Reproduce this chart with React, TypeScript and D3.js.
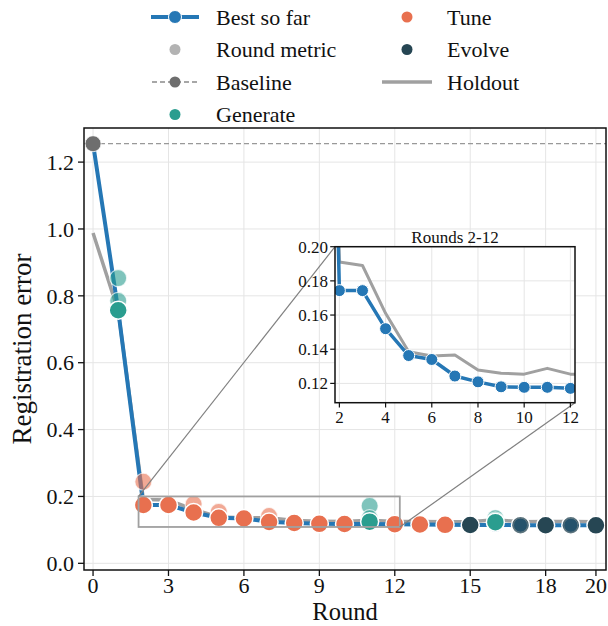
import * as d3 from 'd3';
import React from 'react';

// rounds and per-round values
const rounds = [0, 1, 2, 3, 4, 5, 6, 7, 8, 9, 10, 11, 12, 13, 14, 15, 16, 17, 18, 19, 20];
const stages = ['Baseline', 'Generate', 'Tune', 'Tune', 'Tune', 'Tune', 'Tune', 'Tune', 'Tune', 'Tune', 'Tune',
    'Generate', 'Tune', 'Tune', 'Tune', 'Evolve', 'Generate', 'Evolve', 'Evolve', 'Evolve', 'Evolve'];
const roundMetric = [1.255, 0.757, 0.1745, 0.1745, 0.152, 0.136, 0.134, 0.1235, 0.1205, 0.118, 0.1175,
    0.1245, 0.117, 0.116, 0.115, 0.1145, 0.123, 0.1142, 0.1138, 0.1138, 0.1135];
const bestSoFar = [1.255, 0.757, 0.1743, 0.1743, 0.152, 0.1363, 0.134, 0.1243, 0.1209, 0.118, 0.1177,
    0.1177, 0.1171, 0.116, 0.115, 0.1145, 0.1145, 0.1142, 0.1138, 0.1138, 0.1135];
const holdout = [0.988, 0.755, 0.191, 0.189, 0.161, 0.1385, 0.136, 0.1366, 0.1278, 0.126, 0.1254,
    0.1288, 0.1254, 0.125, 0.124, 0.124, 0.13, 0.124, 0.125, 0.125, 0.124];
const dimmedRounds = [17, 19];
// other candidates evaluated within a round
const candRounds = [1, 1, 2, 4, 5, 7, 11, 11, 16, 16];
const candValues = [0.853, 0.785, 0.244, 0.1775, 0.154, 0.1415, 0.172, 0.135, 0.135, 0.128];
const baseline = 1.255;

const xTicks = [0, 3, 6, 9, 12, 15, 18, 20];
const yTicks = [0.0, 0.2, 0.4, 0.6, 0.8, 1.0, 1.2];
const insetXTicks = [2, 4, 6, 8, 10, 12];
const insetYTicks = [0.12, 0.14, 0.16, 0.18, 0.20];
const insetRange = [1.81, 12.2];
const insetDomain = [0.1087, 0.2];

const colors = {
    best: '#2577b5',
    Baseline: '#6e6e6e',
    Generate: '#2a9d8f',
    Tune: '#e8704f',
    Evolve: '#264653',
    metric: '#b3b3b3',
    holdout: '#a0a0a0',
};

const font = '"Liberation Serif", "Times New Roman", serif';

function App() {
    const x = d3.scaleLinear().domain([-0.36, 20.4]).range([84, 606]);
    const y = d3.scaleLinear().domain([-0.02, 1.302]).range([570, 128]);
    const ix = d3.scaleLinear().domain(insetRange).range([335, 575]);
    const iy = d3.scaleLinear().domain(insetDomain).range([402.7, 246.7]);

    const line = d3.line<number>().x((d, i) => x(rounds[i])).y(d => y(d));
    const iline = d3.line<number>().x((d, i) => ix(rounds[i])).y(d => iy(d));

    const [x0, x1] = x.range();
    const [y0, y1] = y.range();

    const rx0 = x(insetRange[0]), rx1 = x(insetRange[1]);
    const ry0 = y(insetDomain[1]), ry1 = y(insetDomain[0]);

    const legendCol1 = [
        { label: 'Best so far', kind: 'best' },
        { label: 'Round metric', kind: 'metric' },
        { label: 'Baseline', kind: 'baseline' },
        { label: 'Generate', kind: 'Generate' },
    ];
    const legendCol2 = [
        { label: 'Tune', kind: 'Tune' },
        { label: 'Evolve', kind: 'Evolve' },
        { label: 'Holdout', kind: 'holdout' },
    ];

    const handle = (kind: string, cx: number, cy: number) => {
        if (kind === 'best') return (
            <g>
                <line x1={cx - 24} x2={cx + 24} y1={cy} y2={cy} stroke={colors.best} strokeWidth={4} />
                <circle cx={cx} cy={cy} r={6.5} fill={colors.best} stroke="#fff" strokeWidth={1} />
            </g>
        );
        if (kind === 'baseline') return (
            <g>
                <line x1={cx - 23} x2={cx + 23} y1={cy} y2={cy} stroke="#8a8a8a" strokeWidth={1.3} strokeDasharray="5,3" />
                <circle cx={cx} cy={cy} r={5.5} fill={colors.Baseline} />
            </g>
        );
        if (kind === 'holdout') return (
            <line x1={cx - 25} x2={cx + 25} y1={cy} y2={cy} stroke={colors.holdout} strokeWidth={3.5} />
        );
        const c = kind === 'metric' ? colors.metric : (colors as any)[kind];
        return <circle cx={cx} cy={cy} r={5.5} fill={c} />;
    };

    return (
        <svg width={608} height={626} style={{ position: 'absolute', left: 0, top: 0, fontFamily: font }}>
            <defs>
                <clipPath id="main-clip"><rect x={x0} y={y1} width={x1 - x0} height={y0 - y1} /></clipPath>
                <clipPath id="inset-clip"><rect x={335} y={246.7} width={240} height={156} /></clipPath>
            </defs>
            <rect width={608} height={626} fill="#fff" />

            {/* legend */}
            <g fontSize={22} fill="#111">
                {legendCol1.map((d, i) => (
                    <g key={d.label}>
                        {handle(d.kind, 175, 17 + i * 32.5)}
                        <text x={216} y={17 + i * 32.5} dy="0.35em">{d.label}</text>
                    </g>
                ))}
                {legendCol2.map((d, i) => (
                    <g key={d.label}>
                        {handle(d.kind, 407, 17 + i * 32.5)}
                        <text x={447} y={17 + i * 32.5} dy="0.35em">{d.label}</text>
                    </g>
                ))}
            </g>

            {/* grid */}
            <g stroke="#e5e5e5" strokeWidth={1}>
                {xTicks.map(t => <line key={'gx' + t} x1={x(t)} x2={x(t)} y1={y1} y2={y0} />)}
                {yTicks.map(t => <line key={'gy' + t} x1={x0} x2={x1} y1={y(t)} y2={y(t)} />)}
            </g>

            <g clipPath="url(#main-clip)">
                <line x1={x0} x2={x1} y1={y(baseline)} y2={y(baseline)} stroke="#999" strokeWidth={1.3} strokeDasharray="5,3" />
                <path d={line(holdout) || ''} fill="none" stroke={colors.holdout} strokeWidth={3.5} strokeLinejoin="round" />
                <path d={line(bestSoFar) || ''} fill="none" stroke={colors.best} strokeWidth={4} strokeLinejoin="round" />
                {bestSoFar.map((v, i) => (
                    <circle key={'b' + i} cx={x(rounds[i])} cy={y(v)} r={7} fill={colors.best} stroke="#fff" strokeWidth={1} />
                ))}
                {candValues.map((v, i) => {
                    const st = stages[candRounds[i]];
                    return <circle key={'c' + i} cx={x(candRounds[i])} cy={y(v)} r={8.5}
                        fill={(colors as any)[st]} fillOpacity={0.6} stroke="#fff" strokeOpacity={0.7} strokeWidth={1.2} />;
                })}
                {roundMetric.map((v, i) => (
                    <circle key={'m' + i} cx={x(rounds[i])} cy={y(v)} r={i === 0 ? 8 : 9}
                        fill={(colors as any)[stages[i]]}
                        fillOpacity={dimmedRounds.includes(rounds[i]) ? 0.75 : 1}
                        stroke="#fff" strokeWidth={i === 0 ? 0.8 : 1.5} />
                ))}
            </g>

            {/* zoom indicator */}
            <rect x={rx0} y={ry0} width={rx1 - rx0} height={ry1 - ry0} fill="none" stroke="#a0a0a0" strokeWidth={1.8} />
            <line x1={rx0} y1={ry0} x2={335} y2={246.7} stroke="#808080" strokeWidth={1.2} />
            <line x1={rx1} y1={ry1} x2={575} y2={402.7} stroke="#808080" strokeWidth={1.2} />

            {/* main spines */}
            <rect x={x0} y={y1} width={x1 - x0} height={y0 - y1} fill="none" stroke="#111" strokeWidth={1.5} />
            <g stroke="#111" strokeWidth={1.3}>
                {xTicks.map(t => <line key={'tx' + t} x1={x(t)} x2={x(t)} y1={y0} y2={y0 + 6} />)}
                {yTicks.map(t => <line key={'ty' + t} x1={x0 - 6} x2={x0} y1={y(t)} y2={y(t)} />)}
            </g>
            <g fontSize={22} fill="#111">
                {xTicks.map(t => <text key={'lx' + t} x={x(t)} y={y0 + 23} textAnchor="middle">{t}</text>)}
                {yTicks.map(t => <text key={'ly' + t} x={x0 - 10} y={y(t)} dy="0.35em" textAnchor="end">{t.toFixed(1)}</text>)}
            </g>
            <text x={(x0 + x1) / 2} y={620} fontSize={24.5} textAnchor="middle" fill="#111">Round</text>
            <text transform={`translate(31, ${(y0 + y1) / 2}) rotate(-90)`} fontSize={27} textAnchor="middle" fill="#111">Registration error</text>

            {/* inset */}
            <rect x={335} y={246.7} width={240} height={156} fill="#fff" />
            <g stroke="#e5e5e5" strokeWidth={1}>
                {insetXTicks.map(t => <line key={'igx' + t} x1={ix(t)} x2={ix(t)} y1={246.7} y2={402.7} />)}
                {insetYTicks.map(t => <line key={'igy' + t} x1={335} x2={575} y1={iy(t)} y2={iy(t)} />)}
            </g>
            <g clipPath="url(#inset-clip)">
                <path d={iline(holdout) || ''} fill="none" stroke={colors.holdout} strokeWidth={3} strokeLinejoin="round" />
                <path d={iline(bestSoFar) || ''} fill="none" stroke={colors.best} strokeWidth={3.5} strokeLinejoin="round" />
                {bestSoFar.map((v, i) => (
                    <circle key={'ib' + i} cx={ix(rounds[i])} cy={iy(v)} r={6} fill={colors.best} stroke="#fff" strokeWidth={1} />
                ))}
            </g>
            <rect x={335} y={246.7} width={240} height={156} fill="none" stroke="#111" strokeWidth={1.5} />
            <g stroke="#111" strokeWidth={1.2}>
                {insetXTicks.map(t => <line key={'itx' + t} x1={ix(t)} x2={ix(t)} y1={402.7} y2={407.5} />)}
                {insetYTicks.map(t => <line key={'ity' + t} x1={330.2} x2={335} y1={iy(t)} y2={iy(t)} />)}
            </g>
            <g fontSize={17} fill="#111">
                {insetXTicks.map(t => <text key={'ilx' + t} x={ix(t)} y={423} textAnchor="middle">{t}</text>)}
                {insetYTicks.map(t => <text key={'ily' + t} x={328} y={iy(t)} dy="0.35em" textAnchor="end">{t.toFixed(2)}</text>)}
            </g>
            <text x={455} y={243} fontSize={17} textAnchor="middle" fill="#111">Rounds 2-12</text>
        </svg>
    );
}

export default App;
